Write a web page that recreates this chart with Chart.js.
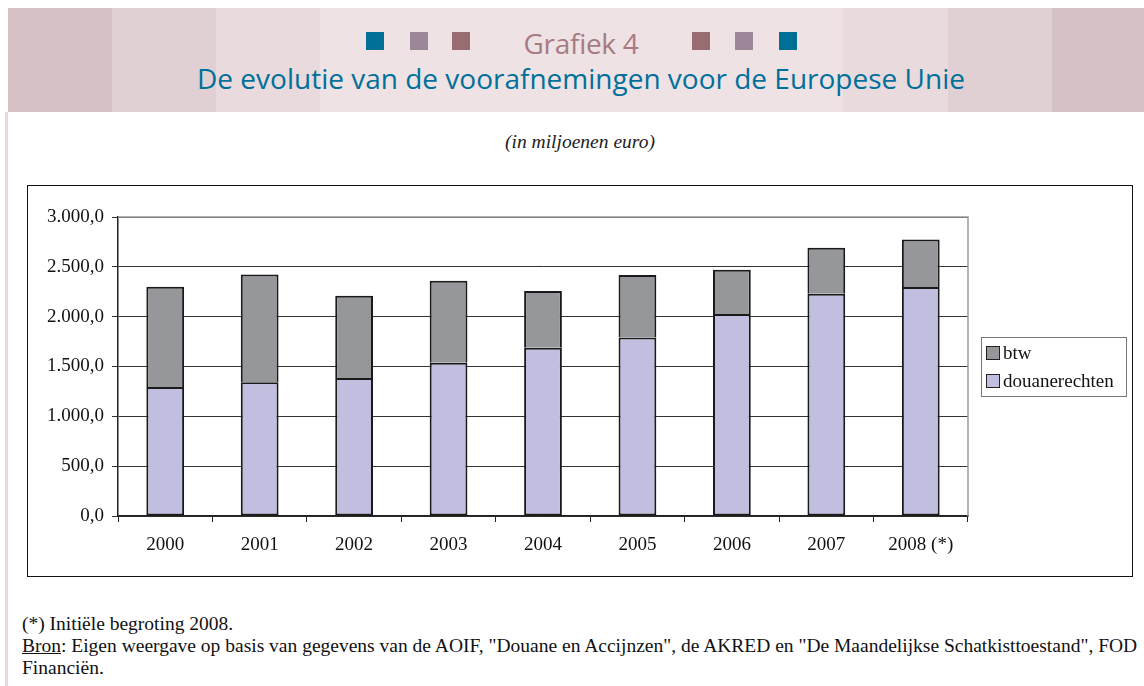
<!DOCTYPE html>
<html>
<head>
<meta charset="utf-8">
<script src="https://cdn.jsdelivr.net/npm/chart.js@4"></script>
<style>
  html, body { margin: 0; padding: 0; background: #fff; }
  body { width: 1144px; height: 686px; position: relative; overflow: hidden; }
  .band { position: absolute; top: 8px; height: 104px; }
  .sq { position: absolute; top: 32px; width: 18px; height: 18px; }
  #head1 { position: absolute; left: 0; width: 1162px; top: 24px; text-align: center;
    font-family: "Open Sans", sans-serif; font-size: 28px; color: #a77b83; letter-spacing: -0.3px; }
  #head2 { position: absolute; left: 0; width: 1162px; top: 59px; text-align: center;
    font-family: "Open Sans", sans-serif; font-size: 28px; color: #00709a; letter-spacing: 0px; }
  #edge { position: absolute; left: 5px; top: 112px; width: 3px; height: 574px; background: #ead9dc; }
  #unit { position: absolute; left: 0; width: 1160px; top: 131px; text-align: center;
    font-family: "Liberation Serif", serif; font-style: italic; font-size: 19.5px; color: #222; }
  #box { position: absolute; left: 27px; top: 185px; width: 1104px; height: 390px; border: 1px solid #111; }
  #box canvas { position: absolute; left: 0; top: 0; }
  #legend { position: absolute; left: 953px; top: 151px; width: 144px; height: 58px;
    border: 1px solid #777; font-family: "Liberation Serif", serif; font-size: 19px; color: #111; }
  #legend div { position: absolute; left: 4px; height: 22px; line-height: 22px; white-space: nowrap; }
  #legend span { display: inline-block; width: 12px; height: 12px; border: 1.5px solid #222;
    margin-right: 3px; vertical-align: -1px; }
  .note { position: absolute; left: 22px; font-family: "Liberation Serif", serif; font-size: 19.5px; color: #111; white-space: nowrap; }
</style>
</head>
<body>
<div class="band" style="left:8px;width:104px;background:#d5c0c3"></div>
<div class="band" style="left:112px;width:104px;background:#e0d0d4"></div>
<div class="band" style="left:216px;width:104px;background:#e8dadd"></div>
<div class="band" style="left:320px;width:523px;background:#eee2e5"></div>
<div class="band" style="left:843px;width:105px;background:#e8dadd"></div>
<div class="band" style="left:948px;width:104px;background:#e0d0d4"></div>
<div class="band" style="left:1052px;width:92px;background:#d5c0c3"></div>
<div class="sq" style="left:366px;background:#006f96"></div>
<div class="sq" style="left:410px;background:#9c8798"></div>
<div class="sq" style="left:452px;background:#986c70"></div>
<div class="sq" style="left:692px;background:#986c70"></div>
<div class="sq" style="left:735px;background:#9c8798"></div>
<div class="sq" style="left:779px;background:#006f96"></div>
<div id="head1">Grafiek 4</div>
<div id="head2">De evolutie van de voorafnemingen voor de Europese Unie</div>
<div id="edge"></div>
<div id="unit">(in miljoenen euro)</div>
<div id="box">
  <canvas id="chart" width="1104" height="390"></canvas>
  <div id="legend"></div>
</div>
<div class="note" style="top:613px">(*) Initiële begroting 2008.</div>
<div class="note" style="top:635px"><u>Bron</u>: Eigen weergave op basis van gegevens van de AOIF, "Douane en Accijnzen", de AKRED en "De Maandelijkse Schatkisttoestand", FOD</div>
<div class="note" style="top:657px">Financiën.</div>

<script>
// values in million euro
const years = ['2000', '2001', '2002', '2003', '2004', '2005', '2006', '2007', '2008 (*)']
const douanerechten = [1294, 1341, 1384, 1538, 1688, 1792, 2026, 2230, 2297]
const btw = [1006, 1083, 826, 822, 569, 625, 444, 461, 478]

const COLORS = { douane: '#c0bfdf', btw: '#96979b' }
const serif = '"Liberation Serif", "Times New Roman", serif'

// grey frame on top/right of plot area
const plotFrame = {
  id: 'plotFrame',
  afterDraw(chart) {
    const { ctx, chartArea: a } = chart
    ctx.save()
    ctx.strokeStyle = '#9a9a9a'
    ctx.lineWidth = 1.5
    ctx.beginPath()
    ctx.moveTo(a.left, a.top)
    ctx.lineTo(a.right, a.top)
    ctx.lineTo(a.right, a.bottom)
    ctx.stroke()
    ctx.restore()
  },
}

const chart = new Chart(document.getElementById('chart'), {
  type: 'bar',
  data: {
    labels: years,
    datasets: [
      { label: 'douanerechten', data: douanerechten, backgroundColor: COLORS.douane, borderSkipped: false },
      { label: 'btw', data: btw, backgroundColor: COLORS.btw, borderSkipped: 'start' },
    ],
  },
  options: {
    responsive: false,
    animation: false,
    layout: { padding: { top: 31, right: 164, left: 0, bottom: 0 } },
    datasets: {
      bar: {
        borderColor: '#1a1a1a',
        borderWidth: 2,
        inflateAmount: 0,
        barPercentage: 0.4,
        categoryPercentage: 1,
      },
    },
    plugins: { legend: { display: false }, tooltip: { enabled: false } },
    scales: {
      x: {
        stacked: true,
        afterFit: s => { s.height = 60 },
        grid: { offset: true, drawOnChartArea: false, drawTicks: true, tickLength: 6, color: '#222' },
        border: { color: '#222', width: 1.5 },
        ticks: { color: '#111', font: { family: serif, size: 19 }, padding: 12 },
      },
      y: {
        stacked: true,
        min: 0,
        max: 3000,
        afterFit: s => { s.width = 90 },
        grid: { color: '#333', lineWidth: 1, tickLength: 6 },
        border: { color: '#222', width: 1.5 },
        ticks: {
          stepSize: 500,
          color: '#111',
          padding: 8,
          font: { family: serif, size: 19 },
          callback: v => v.toLocaleString('de-DE', { minimumFractionDigits: 1, maximumFractionDigits: 1 }),
        },
      },
    },
  },
  plugins: [plotFrame],
})

// legend as html, top series first like the original
const legend = document.getElementById('legend')
chart.data.datasets.slice().reverse().forEach((ds, i) => {
  const row = document.createElement('div')
  row.style.top = (4 + i * 28) + 'px'
  row.innerHTML = `<span style="background:${ds.backgroundColor}"></span>${ds.label}`
  legend.appendChild(row)
})
</script>
</body>
</html>
